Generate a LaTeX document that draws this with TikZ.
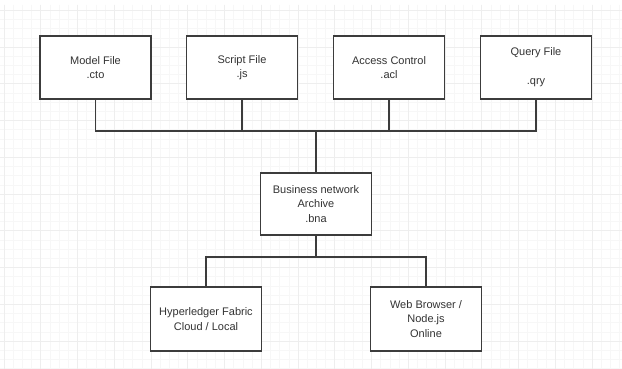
\documentclass[tikz,border=0pt]{standalone}
\usepackage{fontspec}
\setmainfont{Liberation Sans}
\definecolor{linec}{HTML}{3C3C3C}
\definecolor{textc}{HTML}{333333}
\definecolor{minorg}{HTML}{F7F7F7}
\definecolor{majorg}{HTML}{EEEEEE}
\begin{document}
\begin{tikzpicture}[x=1pt,y=-1pt,
  box/.style={draw=linec,line width=1.2pt,fill=white,minimum width=111pt,minimum height=63pt,
    inner sep=0pt,align=center,text=textc,font=\fontsize{11}{14.5}\selectfont},
  conn/.style={draw=linec,line width=1.2pt}]
\useasboundingbox (0,0) rectangle (622,369);
\fill[white] (0,0) rectangle (622,369);
% grid
\begin{scope}
\clip (0,5) rectangle (622,369);
\foreach \i in {-1,...,68} {
  \draw[minorg,line width=0.6pt] ({4+\i*9.1875},5) -- ({4+\i*9.1875},369);
}
\foreach \j in {-1,...,40} {
  \draw[minorg,line width=0.6pt] (0,{10.25+\j*9.1875}) -- (622,{10.25+\j*9.1875});
}
\foreach \i in {0,...,17} {
  \draw[majorg,line width=0.8pt] ({4+\i*36.75},5) -- ({4+\i*36.75},369);
}
\foreach \j in {0,...,10} {
  \draw[majorg,line width=0.8pt] (0,{10.25+\j*36.75}) -- (622,{10.25+\j*36.75});
}
\end{scope}
% nodes
\node[box] (model) at (95.5,67.5) {Model File\\.cto};
\node[box] (script) at (242,67.5) {Script File\\.js};
\node[box] (access) at (389,67.5) {Access Control\\.acl};
\node[box] (query) at (536,67.5) {Query File\\[0pt]\strut\\.qry};
\node[box,minimum height=62pt] (bna) at (316,204) {Business network\\Archive\\.bna};
\node[box,minimum height=64pt] (hyp) at (206,319) {Hyperledger Fabric\\Cloud / Local};
\node[box,minimum height=64pt] (web) at (426,319) {Web Browser /\\Node.js\\Online};
\coordinate (jt) at (316,131);
\coordinate (jb) at (316,257);
% connectors
\draw[conn] (model.south) |- (jt);
\draw[conn] (query.south) |- (jt);
\draw[conn] (script.south) -- (script.south |- jt);
\draw[conn] (access.south) -- (access.south |- jt);
\draw[conn] (jt) -- (bna.north);
\draw[conn] (bna.south) -- (jb);
\draw[conn] (hyp.north) |- (jb);
\draw[conn] (web.north) |- (jb);
\end{tikzpicture}
\end{document}
